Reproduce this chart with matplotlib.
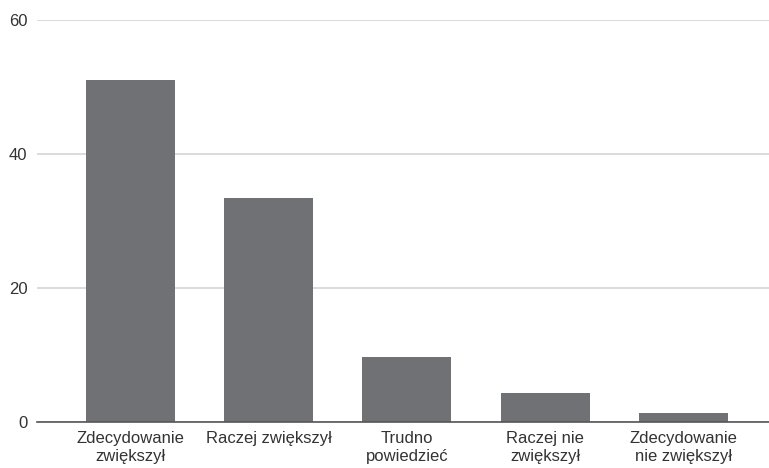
import matplotlib
matplotlib.use("Agg")  # headless backend
import matplotlib.pyplot as plt

categories = ["Zdecydowanie\nzwiększył", "Raczej zwiększył", "Trudno\npowiedzieć",
              "Raczej nie\nzwiększył", "Zdecydowanie\nnie zwiększył"]
values = [51.0, 33.4, 9.6, 4.3, 1.2]
yticks = [0, 20, 40, 60]

plt.rcParams['font.family'] = ['Liberation Sans', 'DejaVu Sans']

fig = plt.figure(figsize=(7.69, 4.68), dpi=100)
ax = fig.add_axes([37 / 769, 1 - 421.5 / 468, 732 / 769, 401.5 / 468])

x = range(len(categories))
ax.bar(x, values, width=0.645, color="#707175", zorder=3)

ax.set_ylim(0, 60)
ax.set_xlim(-0.676, 4.62)
ax.set_yticks(yticks)
ax.set_xticks(list(x))
ax.set_xticklabels(categories, fontsize=12, color="#333333", linespacing=1.2)
ax.tick_params(axis="y", labelsize=12, labelcolor="#333333", length=0, pad=7)
ax.tick_params(axis="x", length=0, pad=7)

# horizontal grid only
ax.grid(axis="y", color="#d4d4d4", linewidth=1.2, zorder=0)
for side in ["top", "right", "left"]:
    ax.spines[side].set_visible(False)
ax.spines["bottom"].set_color("#555555")
ax.spines["bottom"].set_linewidth(1.2)
ax.spines["bottom"].set_zorder(4)

fig.savefig("out.png", dpi=100)
